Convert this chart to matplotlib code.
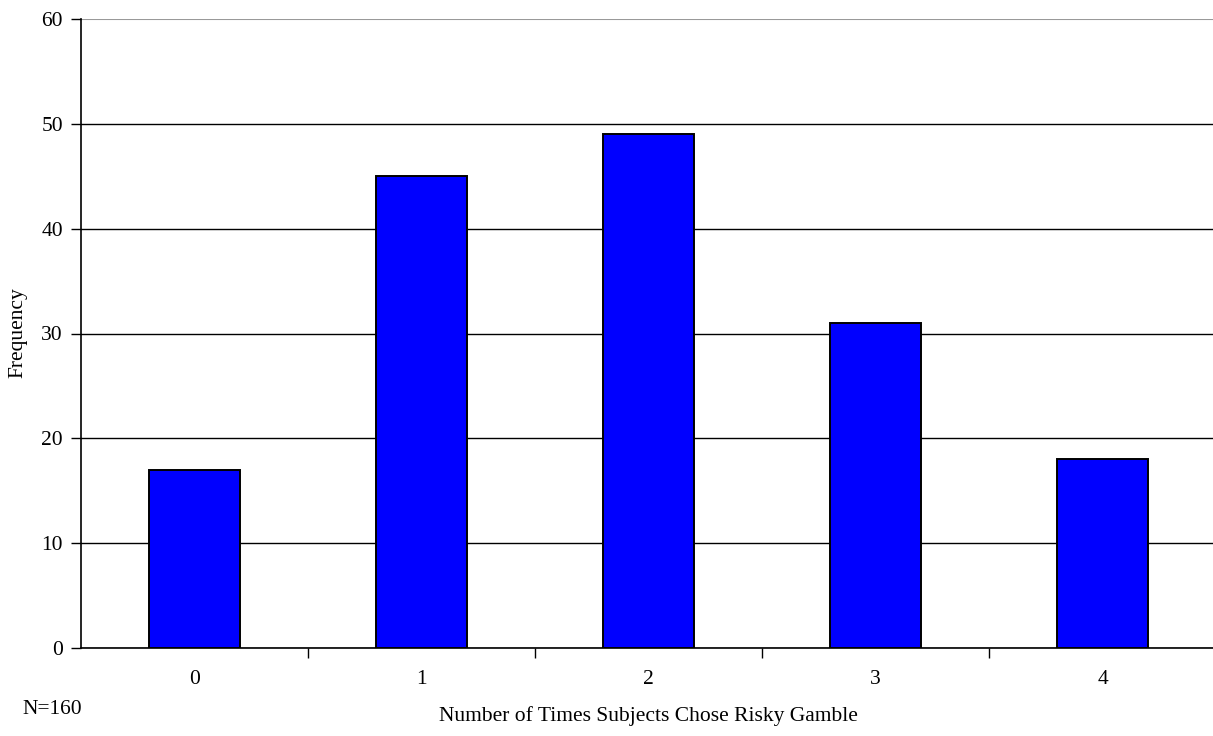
import matplotlib
matplotlib.use("Agg")
import matplotlib.pyplot as plt

categories = ["0", "1", "2", "3", "4"]
frequency = [17, 45, 49, 31, 18]
yticks = [0, 10, 20, 30, 40, 50, 60]

plt.rcParams['font.family'] = ['Liberation Serif', 'DejaVu Serif']

W, H = 1213, 736
fig = plt.figure(figsize=(W / 100, H / 100), dpi=100)
left, right, top, bottom = 81, 1216, 19, 648
ax = fig.add_axes([left / W, 1 - bottom / H, (right - left) / W, (bottom - top) / H])

x = list(range(len(categories)))
ax.bar(x, frequency, width=0.4, color='#0000FF', edgecolor='black', linewidth=1.4, zorder=3)

ax.set_xlim(-0.5, len(categories) - 0.5)
ax.set_ylim(0, 60)
ax.set_yticks(yticks)
ax.set_yticklabels([str(v) for v in yticks], fontsize=15.5)
ax.set_xticks(x)
ax.set_xticklabels(categories, fontsize=15.5)
ax.tick_params(axis='x', which='major', length=0, pad=16)
ax.set_xticks([i + 0.5 for i in x[:-1]], minor=True)
ax.tick_params(axis='x', which='minor', length=7, width=1, direction='out')
ax.tick_params(axis='y', length=7, width=1, direction='out', pad=6)

ax.grid(axis='y', color='black', linewidth=1, zorder=0)
gl = ax.get_ygridlines()
gl[-1].set_color('#999999')
gl[-1].set_linewidth(1.5)

for s in ['top', 'right']:
    ax.spines[s].set_visible(False)
ax.spines['left'].set_linewidth(1.2)
ax.spines['bottom'].set_linewidth(1.2)

fig.text(18 / W, 1 - 333 / H, "Frequency", fontsize=15.5, rotation=90, ha='center', va='center')
fig.text((left + 1135 / 2) / W, 1 - 716 / H, "Number of Times Subjects Chose Risky Gamble",
         fontsize=15.5, ha='center', va='center')
fig.text(22 / W, 1 - 710 / H, "N=160", fontsize=15.5, va='center', ha='left')

fig.savefig("out.png", dpi=100)
